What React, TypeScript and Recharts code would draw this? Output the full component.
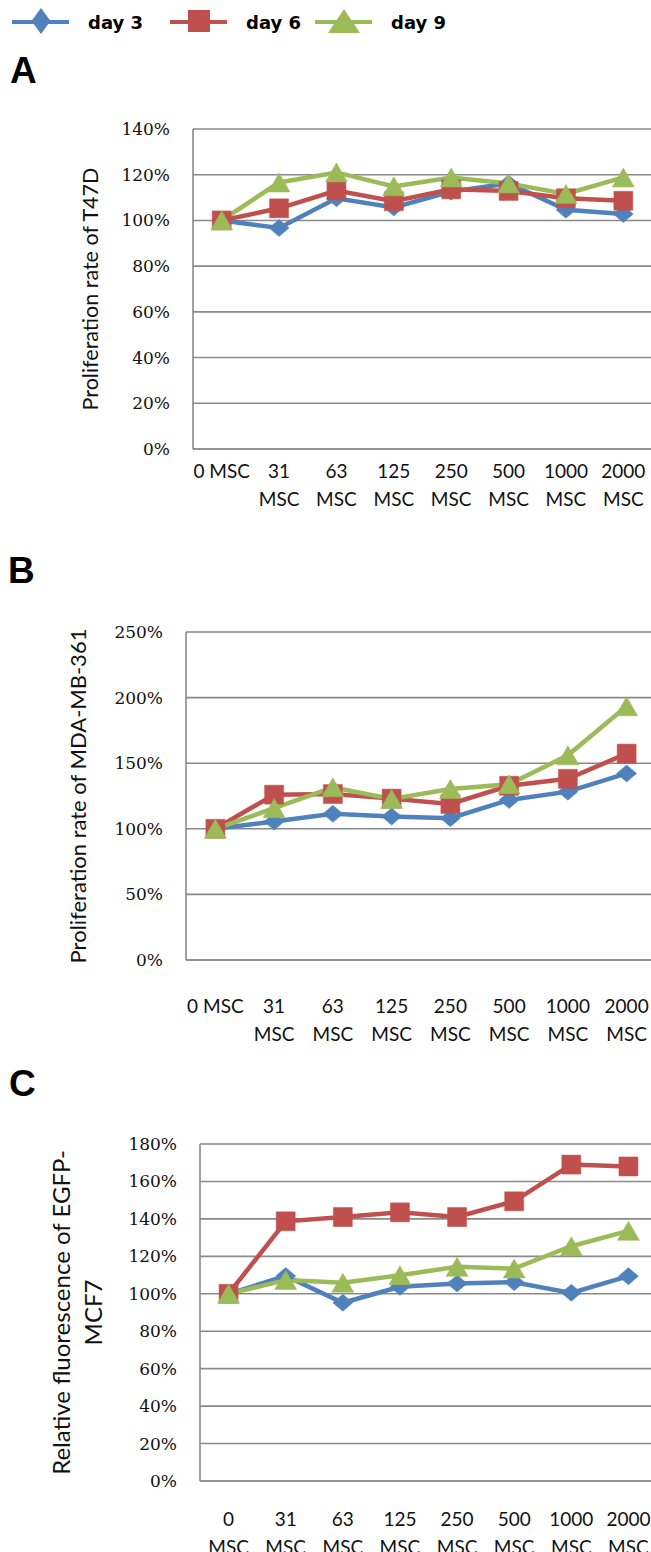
import React from "react";
import { LineChart, Line, XAxis, YAxis, CartesianGrid } from "recharts";

const doses = ["0 MSC", "31 MSC", "63 MSC", "125 MSC", "250 MSC", "500 MSC", "1000 MSC", "2000 MSC"];

const seriesNames = ["day 3", "day 6", "day 9"];
const seriesColors = ["#4F81BD", "#C0504D", "#9BBB59"];
const seriesShapes = ["diamond", "square", "triangle"];

// A - T47D
const t47dDay3 = [100, 96.7, 109.7, 105.7, 112.6, 116.2, 104.7, 102.8];
const t47dDay6 = [100, 105.3, 113.1, 108.4, 113.6, 112.9, 109.7, 108.6];
const t47dDay9 = [100, 116.6, 121, 114.9, 118.8, 116.2, 111.6, 118.8];
const t47dTicks = [0, 20, 40, 60, 80, 100, 120, 140];

// B - MDA-MB-361
const mdaDay3 = [100, 105.5, 111.4, 109.3, 108.1, 122, 128.3, 142.2];
const mdaDay6 = [100, 126, 126.5, 123, 118.9, 132.8, 138.1, 157.3];
const mdaDay9 = [100, 115.7, 131.6, 122.7, 130.3, 134, 156, 193.4];
const mdaTicks = [0, 50, 100, 150, 200, 250];

// C - EGFP-MCF7
const mcf7Day3 = [100, 109.5, 95.2, 103.7, 105.5, 106.2, 100.5, 109.4];
const mcf7Day6 = [100, 138.7, 141, 143.5, 141, 149.4, 169, 168];
const mcf7Day9 = [100, 107.3, 105.9, 109.9, 114.4, 113.5, 125.4, 133.6];
const mcf7Ticks = [0, 20, 40, 60, 80, 100, 120, 140, 160, 180];

const gridColor = "#8a8a8a";
const sansFont = "Lato, 'Liberation Sans', sans-serif";
const serifFont = "'DejaVu Serif', serif";

function markerPath(shape: string, cx: number, cy: number, w: number, h: number) {
  const hw = w / 2;
  const hh = h / 2;
  if (shape === "diamond") return `M${cx},${cy - hh}L${cx + hw},${cy}L${cx},${cy + hh}L${cx - hw},${cy}Z`;
  if (shape === "square") return `M${cx - hw},${cy - hh}h${w}v${h}h${-w}Z`;
  return `M${cx},${cy - hh}L${cx + hw},${cy + hh}L${cx - hw},${cy + hh}Z`;
}

const markerSize: Record<string, [number, number]> = {
  diamond: [20, 17],
  square: [19, 19],
  triangle: [22, 19],
};

function makeDot(shape: string, color: string) {
  return (props: any) => {
    const { cx, cy, index } = props;
    if (cx == null || cy == null) return <g key={`d-${index}`} />;
    const [w, h] = markerSize[shape];
    return <path key={`d-${shape}-${index}`} d={markerPath(shape, cx, cy, w, h)} fill={color} stroke={color} strokeWidth={0.5} />;
  };
}

function DoseTick(props: any) {
  const { x, y, payload, firstDy, gap, splitAll } = props;
  const label: string = payload.value;
  const lines = splitAll || label.length > 5 ? label.split(" ") : [label];
  return (
    <g>
      {lines.map((l, i) => (
        <text
          key={i}
          x={x}
          y={y + firstDy + i * gap}
          textAnchor="middle"
          dominantBaseline="central"
          fontFamily={sansFont}
          fontSize={19}
          fill="#111"
        >
          {l}
        </text>
      ))}
    </g>
  );
}

function AxisTitle(props: any) {
  const { viewBox, lines, xs, size } = props;
  const cy = viewBox.y + viewBox.height / 2;
  return (
    <g>
      {lines.map((l: string, i: number) => (
        <text
          key={i}
          x={xs[i]}
          y={cy}
          transform={`rotate(-90 ${xs[i]} ${cy})`}
          textAnchor="middle"
          dominantBaseline="central"
          fontFamily={sansFont}
          fontSize={size}
          fill="#111"
        >
          {l}
        </text>
      ))}
    </g>
  );
}

type PanelProps = {
  top: number;
  height: number;
  marginTop: number;
  plotLeft: number;
  marginRight: number;
  xAxisHeight: number;
  day3: number[];
  day6: number[];
  day9: number[];
  ticks: number[];
  title: string[];
  titleXs: number[];
  titleSize: number;
  firstDy: number;
  gap: number;
  splitAll: boolean;
};

const chartWidth = 660;

function Panel(p: PanelProps) {
  const data = doses.map((dose, i) => ({ dose, d3: p.day3[i], d6: p.day6[i], d9: p.day9[i] }));
  const plotWidth = chartWidth - p.plotLeft - p.marginRight;
  const pad = plotWidth / 16;
  const keys = ["d3", "d6", "d9"];
  return (
    <div style={{ position: "absolute", left: 0, top: p.top }}>
      <LineChart
        width={chartWidth}
        height={p.height}
        data={data}
        margin={{ top: p.marginTop, right: p.marginRight, left: 0, bottom: 0 }}
      >
        <CartesianGrid vertical={false} stroke={gridColor} strokeWidth={1.6} />
        <XAxis
          dataKey="dose"
          height={p.xAxisHeight}
          interval={0}
          padding={{ left: pad, right: pad }}
          axisLine={{ stroke: gridColor, strokeWidth: 1.6 }}
          tickLine={false}
          tickSize={0}
          tickMargin={0}
          tick={<DoseTick firstDy={p.firstDy} gap={p.gap} splitAll={p.splitAll} />}
        />
        <YAxis
          width={p.plotLeft}
          domain={[0, p.ticks[p.ticks.length - 1]]}
          ticks={p.ticks}
          interval={0}
          tickFormatter={(v: number) => `${v}%`}
          axisLine={{ stroke: gridColor, strokeWidth: 1.6 }}
          tickLine={false}
          tickSize={0}
          tickMargin={23}
          tick={{ fontFamily: serifFont, fontSize: 17, fill: "#111" }}
          label={<AxisTitle lines={p.title} xs={p.titleXs} size={p.titleSize} />}
        />
        {keys.map((k, i) => (
          <Line
            key={k}
            type="linear"
            dataKey={k}
            name={seriesNames[i]}
            stroke={seriesColors[i]}
            strokeWidth={4.5}
            dot={makeDot(seriesShapes[i], seriesColors[i])}
            activeDot={false}
            isAnimationActive={false}
          />
        ))}
      </LineChart>
    </div>
  );
}

const legendX = [12, 170, 315];
const legendMarker: Record<string, [number, number]> = {
  diamond: [19, 26],
  square: [22, 22],
  triangle: [32, 24],
};

function TopLegend() {
  return (
    <svg width={460} height={45} style={{ position: "absolute", left: 0, top: 0 }}>
      {seriesNames.map((name, i) => {
        const x0 = legendX[i];
        const [w, h] = legendMarker[seriesShapes[i]];
        return (
          <g key={name}>
            <line x1={x0} x2={x0 + 57} y1={22} y2={22} stroke={seriesColors[i]} strokeWidth={4} />
            <path d={markerPath(seriesShapes[i], x0 + 29, 21, w, h)} fill={seriesColors[i]} />
            <text x={x0 + 76} y={29} fontFamily="'DejaVu Sans', sans-serif" fontWeight="bold" fontSize={18} fill="#000">
              {name}
            </text>
          </g>
        );
      })}
    </svg>
  );
}

const letterStyle: React.CSSProperties = {
  position: "absolute",
  fontFamily: "'Liberation Sans', sans-serif",
  fontWeight: "bold",
  fontSize: 37,
  lineHeight: "37px",
  color: "#000",
};

export default function App() {
  return (
    <div style={{ position: "absolute", left: 0, top: 0, width: 651, height: 1552, overflow: "hidden", background: "#fff" }}>
      <TopLegend />
      <div style={{ ...letterStyle, left: 10, top: 52 }}>A</div>
      <div style={{ ...letterStyle, left: 8, top: 552 }}>B</div>
      <div style={{ ...letterStyle, left: 9, top: 1065 }}>C</div>
      <Panel
        top={110}
        height={409}
        marginTop={19}
        plotLeft={193}
        marginRight={8}
        xAxisHeight={70}
        day3={t47dDay3}
        day6={t47dDay6}
        day9={t47dDay9}
        ticks={t47dTicks}
        title={["Proliferation rate of T47D"]}
        titleXs={[90]}
        titleSize={21.5}
        firstDy={21}
        gap={28}
        splitAll={false}
      />
      <Panel
        top={600}
        height={445}
        marginTop={32}
        plotLeft={186}
        marginRight={4}
        xAxisHeight={85}
        day3={mdaDay3}
        day6={mdaDay6}
        day9={mdaDay9}
        ticks={mdaTicks}
        title={["Proliferation rate of MDA-MB-361"]}
        titleXs={[77]}
        titleSize={22}
        firstDy={45}
        gap={28}
        splitAll={false}
      />
      <Panel
        top={1120}
        height={432}
        marginTop={24}
        plotLeft={200}
        marginRight={3}
        xAxisHeight={71}
        day3={mcf7Day3}
        day6={mcf7Day6}
        day9={mcf7Day9}
        ticks={mcf7Ticks}
        title={["Relative fluorescence of EGFP-", "MCF7"]}
        titleXs={[60, 92]}
        titleSize={24}
        firstDy={37}
        gap={28}
        splitAll={true}
      />
    </div>
  );
}
